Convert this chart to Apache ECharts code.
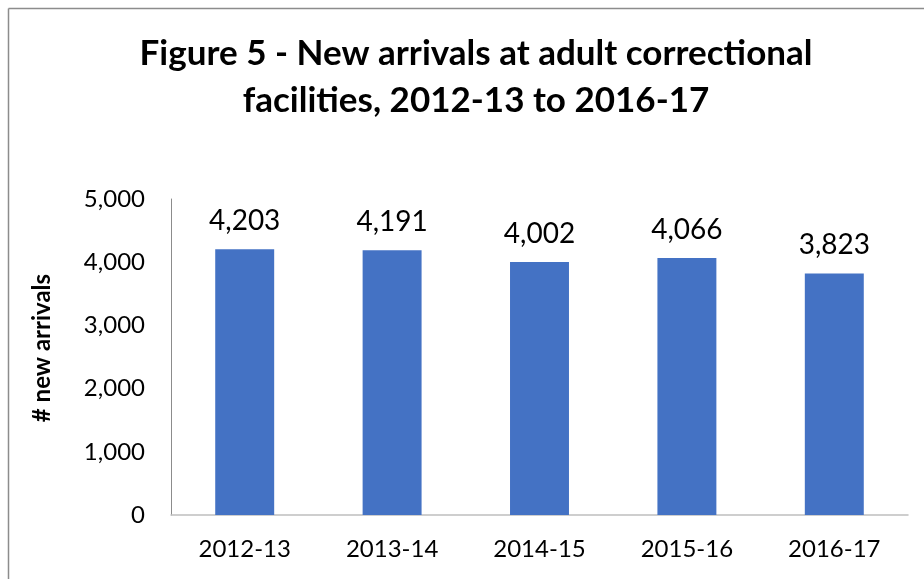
<!DOCTYPE html>
<html>
<head>
<meta charset="utf-8">
<script src="https://cdn.jsdelivr.net/npm/echarts@6/dist/echarts.min.js"></script>
<style>html,body{margin:0;padding:0;background:#fff}#c{width:924px;height:579px}</style>
</head>
<body>
<div id="c"></div>
<script>
const categories = ['2012-13', '2013-14', '2014-15', '2015-16', '2016-17'];
const arrivals = [4203, 4191, 4002, 4066, 3823];
const yTicks = [0, 1000, 2000, 3000, 4000, 5000];
const titleText = 'Figure 5 - New arrivals at adult correctional\nfacilities, 2012-13 to 2016-17';
const yName = '# new arrivals';

const FONT = 'Lato, "Open Sans", sans-serif';
const chart = echarts.init(document.getElementById('c'));
chart.setOption({
  backgroundColor: '#fff',
  animation: false,
  title: {
    text: titleText,
    left: 471,
    textAlign: 'center',
    top: 25,
    textStyle: { fontFamily: FONT, fontSize: 35, fontWeight: 'bold', color: '#000', lineHeight: 47 }
  },
  graphic: [
    { type: 'line', shape: { x1: 8.5, y1: 8.5, x2: 924, y2: 8.5 }, style: { stroke: '#8c8c8c', lineWidth: 1.5 } },
    { type: 'line', shape: { x1: 8.5, y1: 8.5, x2: 8.5, y2: 579 }, style: { stroke: '#8c8c8c', lineWidth: 1.5 } }
  ],
  grid: { left: 171, right: 16, top: 199, bottom: 64 },
  xAxis: {
    type: 'category',
    data: categories,
    axisLine: { lineStyle: { color: '#bfbfbf', width: 1.5 } },
    axisTick: { show: false },
    axisLabel: { fontFamily: FONT, fontSize: 24, color: '#000', margin: 22 }
  },
  yAxis: {
    type: 'value',
    min: yTicks[0],
    max: yTicks[yTicks.length - 1],
    interval: 1000,
    name: yName,
    nameLocation: 'middle',
    nameGap: 117,
    nameTextStyle: { fontFamily: FONT, fontSize: 24, fontWeight: 'bold', color: '#000', padding: [0, 0, 0, 18] },
    axisLine: { show: true, lineStyle: { color: '#8c8c8c', width: 1 } },
    axisTick: { show: false },
    splitLine: { show: false },
    axisLabel: {
      fontFamily: FONT, fontSize: 24, color: '#000', margin: 26,
      formatter: v => v.toLocaleString('en-US')
    }
  },
  series: [{
    type: 'bar',
    data: arrivals,
    barWidth: '40%',
    itemStyle: { color: '#4472C4' },
    label: {
      show: true, position: 'top', distance: 14,
      fontFamily: FONT, fontSize: 28, color: '#000',
      formatter: p => p.value.toLocaleString('en-US')
    }
  }]
});
</script>
</body>
</html>
